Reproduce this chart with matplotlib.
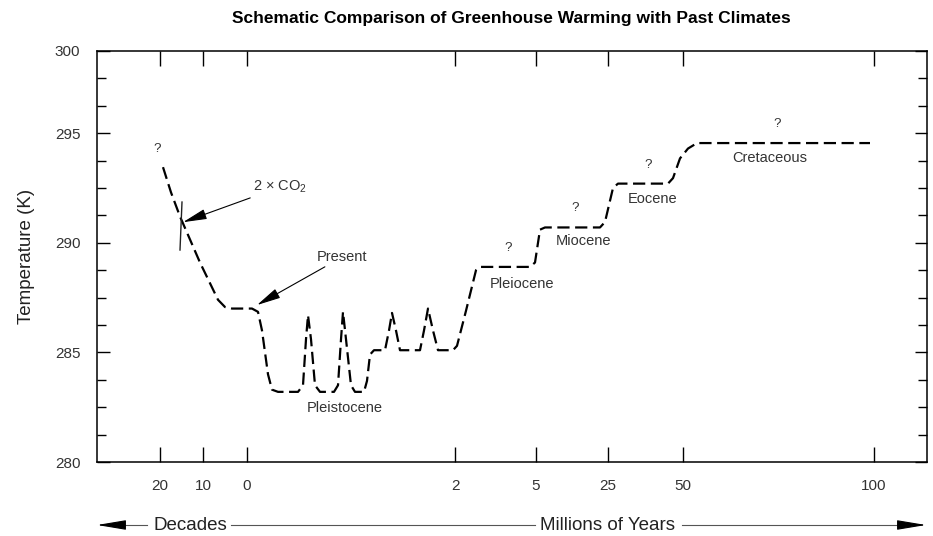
# Schematic comparison of greenhouse warming with past climates.
# x is a schematic (non-linear) time axis: decades to the left of 0,
# millions of years to the right, so positions are kept in axis units.

import matplotlib.pyplot as plt
from matplotlib.ticker import FixedLocator, MultipleLocator

plt.rcParams['font.family'] = ['Liberation Sans', 'DejaVu Sans']

# %% data --------------------------------------------------------------------|
tick_pos = [63, 106, 150, 358, 439, 511, 586, 777]
tick_labels = ['20', '10', '0', '2', '5', '25', '50', '100']

ytick_vals = [280, 285, 290, 295, 298.75]
ytick_labels = ['280', '285', '290', '295', '300']

# temperature path (schematic position, K)
curve_pos = [66, 74, 83, 103, 121, 128, 135, 155, 161, 165, 171, 175, 181,
             201, 206, 209, 211, 214, 218, 223, 237, 241, 244, 246, 249,
             254, 258, 267, 270, 273, 277, 288, 292, 295, 299, 303, 323,
             327, 331, 336, 341, 356, 360, 369, 379, 383, 433, 438, 443,
             448, 503, 508, 516, 521, 571, 576, 583, 591, 600, 773]
curve_temp = [293.45, 292.3, 291.2, 289.1, 287.4, 287.07, 287.0, 287.0,
              286.85, 286.0, 284.0, 283.3, 283.2, 283.2, 283.5, 285.6,
              286.7, 285.6, 283.5, 283.2, 283.2, 283.5, 285.6, 286.85,
              285.6, 283.5, 283.2, 283.2, 283.7, 284.9, 285.1, 285.1,
              286.0, 286.8, 286.0, 285.1, 285.1, 286.0, 287.0, 286.0,
              285.1, 285.1, 285.3, 286.9, 288.75, 288.9, 288.9, 289.1,
              290.6, 290.7, 290.7, 290.95, 292.5, 292.7, 292.7, 292.95,
              293.85, 294.3, 294.55, 294.55]

# short bar marking the doubled-CO2 point
co2_marker_pos = [85, 83]
co2_marker_temp = [291.86, 289.67]

# period names and the "?" marks
periods = ['Pleistocene', 'Pleiocene', 'Miocene', 'Eocene', 'Cretaceous']
period_pos = [248, 425, 486, 556, 673]
period_temp = [282.45, 288.1, 290.1, 292.0, 293.85]
query_pos = [60, 411, 478, 551, 680]
query_temp = [294.3, 289.75, 291.6, 293.55, 295.4]

# %% figure ------------------------------------------------------------------|
fig = plt.figure(figsize=(9.33, 5.36), dpi=100)
ax = fig.add_axes([97/933, 1 - 462/536, 830/933, 411/536])

ax.plot(curve_pos, curve_temp, color='k', lw=1.6, dashes=(5.5, 2.5))
ax.plot(co2_marker_pos, co2_marker_temp, color='#222222', lw=1.0)

for name, xp, tp in zip(periods, period_pos, period_temp):
    ax.text(xp, tp, name, ha='center', va='center', fontsize=10.5,
            color='#333333')
for xp, tp in zip(query_pos, query_temp):
    ax.text(xp, tp, '?', ha='center', va='center', fontsize=9.5,
            color='#333333')

arrow = dict(arrowstyle='-|>,head_length=1.4,head_width=0.3', lw=0.8,
             color='k', shrinkA=0, shrinkB=0)
ax.annotate('2 × CO$_\\mathregular{2}$', xy=(86, 290.94), xytext=(156, 292.54),
            ha='left', va='center', fontsize=10.5, color='#333333',
            arrowprops=arrow)
ax.annotate('Present', xy=(160, 287.16), xytext=(220, 289.35),
            ha='left', va='center', fontsize=10.5, color='#333333',
            arrowprops=arrow)

ax.set_xlim(0, 830)
ax.set_ylim(280, 298.75)
ax.set_xticks(tick_pos)
ax.set_xticklabels(tick_labels)
ax.set_yticks(ytick_vals)
ax.set_yticklabels(ytick_labels)
ax.yaxis.set_minor_locator(MultipleLocator(1.25))

ax.tick_params(axis='x', which='major', direction='in', length=11, width=1,
               top=True, labelsize=11, labelcolor='#333333', pad=12)
ax.tick_params(axis='y', which='major', direction='in', length=9, width=1,
               right=True, labelsize=11, labelcolor='#333333', pad=12)
ax.tick_params(axis='y', which='minor', direction='in', length=6.5,
               width=1, right=True)
for s in ax.spines.values():
    s.set_linewidth(1.1)

ax.set_ylabel('Temperature (K)', fontsize=13.5, color='#222222', labelpad=14)

fig.text(511/933, 1 - 19/536,
         'Schematic Comparison of Greenhouse Warming with Past Climates',
         ha='center', va='center', fontsize=12.5, fontweight='bold')

# %% time arrows under the axis, drawn on a pixel overlay --------------------|
ov = fig.add_axes([0, 0, 1, 1])
ov.set_xlim(0, 933)
ov.set_ylim(536, 0)
ov.axis('off')
ov.text(190, 525, 'Decades', ha='center', va='center', fontsize=13.5,
        color='#222222')
ov.text(608, 525, 'Millions of Years', ha='center', va='center',
        fontsize=13.5, color='#222222')
ov.plot([122, 147], [525, 525], color='#555555', lw=0.8)
ov.plot([231, 535], [525, 525], color='#555555', lw=0.8)
ov.plot([682, 900], [525, 525], color='#555555', lw=0.8)
head = dict(arrowstyle='-|>,head_length=1.8,head_width=0.3', lw=0.8,
            color='k', shrinkA=0, shrinkB=0)
ov.annotate('', xy=(97, 525), xytext=(124, 525), arrowprops=head)
ov.annotate('', xy=(926, 525), xytext=(899, 525), arrowprops=head)

fig.savefig('out.png', dpi=100)
